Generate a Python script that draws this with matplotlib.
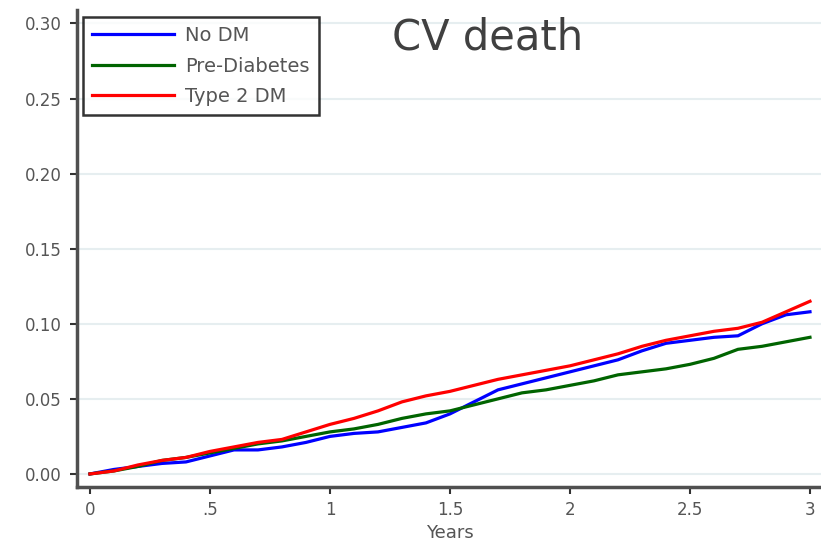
import matplotlib
matplotlib.use("Agg")
import matplotlib.pyplot as plt

plt.rcParams["font.family"] = ["DejaVu Sans"]

# cumulative incidence, every 0.1 year
years = [i / 10 for i in range(31)]
no_dm = [0, 0.003, 0.005, 0.007, 0.008, 0.012, 0.016, 0.016, 0.018, 0.021,
         0.025, 0.027, 0.028, 0.031, 0.034, 0.040, 0.048, 0.056, 0.060, 0.064,
         0.068, 0.072, 0.076, 0.082, 0.087, 0.089, 0.091, 0.092, 0.100, 0.106, 0.108]
pre_dm = [0, 0.002, 0.005, 0.009, 0.011, 0.014, 0.017, 0.020, 0.022, 0.025,
          0.028, 0.030, 0.033, 0.037, 0.040, 0.042, 0.046, 0.050, 0.054, 0.056,
          0.059, 0.062, 0.066, 0.068, 0.070, 0.073, 0.077, 0.083, 0.085, 0.088, 0.091]
t2dm = [0, 0.002, 0.006, 0.009, 0.011, 0.015, 0.018, 0.021, 0.023, 0.028,
        0.033, 0.037, 0.042, 0.048, 0.052, 0.055, 0.059, 0.063, 0.066, 0.069,
        0.072, 0.076, 0.080, 0.085, 0.089, 0.092, 0.095, 0.097, 0.101, 0.108, 0.115]

series = [("No DM", no_dm, "#0000ff"),
          ("Pre-Diabetes", pre_dm, "#006400"),
          ("Type 2 DM", t2dm, "#ff0000")]

x_ticks = [0, 0.5, 1, 1.5, 2, 2.5, 3]
x_labels = ["0", ".5", "1", "1.5", "2", "2.5", "3"]
y_ticks = [0, 0.05, 0.10, 0.15, 0.20, 0.25, 0.30]

fig = plt.figure(figsize=(8.21, 5.48), dpi=100)
ax = fig.add_axes([0.0938, 0.1113, 0.9074, 0.8705])

for name, vals, col in series:
    ax.plot(years, vals, color=col, lw=2.3, label=name)

ax.set_xlim(-0.054, 3.05)
ax.set_ylim(-0.0087, 0.309)
ax.set_xticks(x_ticks)
ax.set_xticklabels(x_labels)
ax.set_yticks(y_ticks)
ax.set_yticklabels([f"{v:.2f}" for v in y_ticks])
ax.yaxis.grid(True, color="#e6eef0", lw=1.5)
ax.set_axisbelow(True)

for side in ["top", "right"]:
    ax.spines[side].set_visible(False)
for side in ["left", "bottom"]:
    ax.spines[side].set_color("#505050")
    ax.spines[side].set_linewidth(2.5)

ax.tick_params(axis="both", colors="#333333", labelcolor="#555555",
               labelsize=12, length=5, width=1.5)
ax.tick_params(axis="x", pad=5)
ax.tick_params(axis="y", pad=6)
ax.set_xlabel("Years", color="#555555", fontsize=13, labelpad=4)

leg = ax.legend(loc="upper left", bbox_to_anchor=(83 / 821, 1 - 17 / 548),
                bbox_transform=fig.transFigure, frameon=True, fancybox=False,
                fontsize=14, handlelength=4.2, handletextpad=0.6,
                labelspacing=0.6, borderpad=0.46, borderaxespad=0)
leg.get_frame().set_edgecolor("black")
leg.get_frame().set_linewidth(1.8)
for t in leg.get_texts():
    t.set_color("#555555")

fig.text(488 / 821, 1 - 38 / 548, "CV death", fontsize=30, color="#404040",
         ha="center", va="center")

fig.savefig("out.png", dpi=100)
